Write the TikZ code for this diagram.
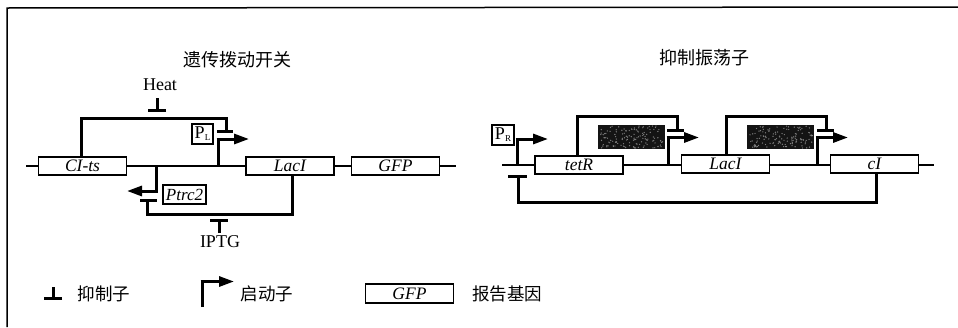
\documentclass[tikz,border=0pt]{standalone}
\usepackage{fontspec}
\setmainfont{Liberation Serif}
\newfontfamily\cjk{Noto Sans CJK SC}
\usetikzlibrary{arrows.meta}
\tikzset{
  gene/.style={draw=black,fill=white,line width=1.5pt,minimum width=88pt,minimum height=18pt,inner sep=0pt,font=\fontsize{17.5}{17.5}\selectfont\itshape},
  dna/.style={line width=1.2pt},
  wire/.style={line width=3pt,line join=miter},
  prom/.style={line width=3pt,-{Triangle[length=15pt,width=10pt]}},
  rep/.style={line width=3pt,-{Bar[width=18pt,length=3pt]}},
  tag/.style={draw=black,line width=1.5pt,fill=white,inner sep=0pt,font=\fontsize{18}{18}\selectfont},
  title/.style={font=\cjk\fontsize{18}{18}\selectfont,inner sep=0pt},
  legend/.style={font=\cjk\fontsize{17.5}{17.5}\selectfont,inner sep=0pt},
  plain/.style={font=\fontsize{18}{18}\selectfont,inner sep=0pt},
  blackbox/.style={fill=black!92,inner sep=0pt,minimum width=67pt,minimum height=24pt}
}
\begin{document}
\begin{tikzpicture}[x=1pt,y=-1pt]
\useasboundingbox (0,0) rectangle (958,327);
% frame
\coordinate (fb) at (7,327);
\coordinate (fc) at (7,8);
\coordinate (fr) at (958,7);
\draw[line width=1.5pt] (fb) -- (fc) -- (fr);
% titles
\node[title] (t1) at (237,60) {遗传拨动开关};
\node[title] (t2) at (704,58) {抑制振荡子};
% ---------- left circuit
\coordinate (la) at (26,166);
\coordinate (lb) at (456,166);
\draw[dna] (la) -- (lb);
\node[gene] (clts) at (82.5,166) {CI-ts};
\node[gene] (laca) at (290,166) {LacI};
\node[gene] (gfpa) at (395.5,166) {GFP};
\node[plain] (heat) at (160,85) {Heat};
\node[plain] (iptg) at (220,242) {IPTG};
\node[tag,minimum width=21pt,minimum height=20pt] (pl) at (202.5,134) {P\raisebox{-2pt}{\fontsize{9}{9}\selectfont L}};
\node[tag,minimum width=43pt,minimum height=19pt,font=\fontsize{17}{17}\selectfont\itshape] (ptrc) at (184.5,194.5) {Ptrc2};
% feedback CI -> PL
\coordinate (f1a) at (81,118);
\coordinate (f1b) at (226,118);
\coordinate (f1c) at (226,132);
\draw[wire] (clts.north -| f1a) -- (f1a) -- (f1b) -- (f1c);
\coordinate (f1bl) at (217,131);
\coordinate (f1br) at (233,131);
\draw[wire] (f1bl) -- (f1br);
% PL promoter
\coordinate (p1a) at (218,166);
\coordinate (p1b) at (218,139);
\coordinate (p1c) at (249,139);
\coordinate (p1d) at (216.5,139);
\draw[wire] (p1a) -- (p1b);
\draw[prom] (p1d) -- (p1c);
% Heat
\coordinate (h1) at (157,98);
\coordinate (h2) at (157,112);
\draw[rep] (h1) -- (h2);
% Ptrc2 promoter
\coordinate (p2a) at (156,166);
\coordinate (p2b) at (156,191);
\coordinate (p2c) at (127,191);
\coordinate (p2d) at (157.5,191);
\draw[wire] (p2a) -- (p2b);
\draw[prom] (p2d) -- (p2c);
% LacI -> Ptrc2
\coordinate (r1a) at (292,214);
\coordinate (r1b) at (147,214);
\coordinate (r1c) at (147,201);
\draw[wire] (laca.south -| r1a) -- (r1a) -- (r1b) -- (r1c);
\coordinate (r1l) at (140,200.5);
\coordinate (r1r) at (157,200.5);
\draw[wire] (r1l) -- (r1r);
% IPTG
\coordinate (i1) at (219,233);
\coordinate (i2) at (219,219);
\draw[rep] (i1) -- (i2);
% ---------- right circuit
\coordinate (ra) at (502,165);
\coordinate (rb) at (934,165);
\draw[dna] (ra) -- (rb);
\node[gene] (tet) at (579,165) {tetR};
\node[gene] (lacb) at (725.5,164) {LacI};
\node[gene] (ci) at (874.5,164) {cI};
\node[tag,minimum width=22pt,minimum height=20pt] (pr) at (503,135) {P\raisebox{-2pt}{\fontsize{9}{9}\selectfont R}};
\node[blackbox] (k1) at (631.5,137) {};
\node[blackbox] (k2) at (780.5,137) {};
\pgfmathsetseed{7}
\foreach \cx in {631.5,780.5}{
  \foreach \i in {1,...,130}{
    \pgfmathsetmacro{\dx}{\cx+rand*32}
    \pgfmathsetmacro{\dy}{137+rand*11}
    \fill[black!50] (\dx,\dy) circle (0.7pt);
  }
}
% PR promoter
\coordinate (p3a) at (517,165);
\coordinate (p3b) at (517,139);
\coordinate (p3c) at (548,139);
\coordinate (p3d) at (515.5,139);
\draw[wire] (p3a) -- (p3b);
\draw[prom] (p3d) -- (p3c);
% cI -> PR
\coordinate (r2a) at (876,202);
\coordinate (r2b) at (518,202);
\coordinate (r2c) at (518,177);
\draw[wire] (ci.south -| r2a) -- (r2a) -- (r2b) -- (r2c);
\coordinate (r2l) at (508,176);
\coordinate (r2r) at (527,176);
\draw[wire] (r2l) -- (r2r);
% tetR -> P
\coordinate (f2a) at (577,116);
\coordinate (f2b) at (677,116);
\coordinate (f2c) at (677,130);
\draw[wire] (tet.north -| f2a) -- (f2a) -- (f2b) -- (f2c);
\coordinate (f2l) at (667,130);
\coordinate (f2r) at (684,130);
\draw[wire] (f2l) -- (f2r);
\coordinate (p4a) at (668,165);
\coordinate (p4b) at (668,137.5);
\coordinate (p4c) at (699,137.5);
\coordinate (p4d) at (666.5,137.5);
\draw[wire] (p4a) -- (p4b);
\draw[prom] (p4d) -- (p4c);
% LacI -> P
\coordinate (f3a) at (726,116);
\coordinate (f3b) at (826,116);
\coordinate (f3c) at (826,130);
\draw[wire] (lacb.north -| f3a) -- (f3a) -- (f3b) -- (f3c);
\coordinate (f3l) at (817,130);
\coordinate (f3r) at (834,130);
\draw[wire] (f3l) -- (f3r);
\coordinate (p5a) at (817,165);
\coordinate (p5b) at (817,137.5);
\coordinate (p5c) at (848,137.5);
\coordinate (p5d) at (815.5,137.5);
\draw[wire] (p5a) -- (p5b);
\draw[prom] (p5d) -- (p5c);
% ---------- legend
\coordinate (l1a) at (53,287);
\coordinate (l1b) at (53,300);
\draw[rep] (l1a) -- (l1b);
\node[legend] (lg1) at (104,294) {抑制子};
\coordinate (l2a) at (202,307);
\coordinate (l2b) at (202,281.5);
\coordinate (l2c) at (234,281.5);
\coordinate (l2d) at (200.5,281.5);
\draw[wire] (l2a) -- (l2b);
\draw[prom] (l2d) -- (l2c);
\node[legend] (lg2) at (267,294) {启动子};
\node[gene,minimum height=19pt] (gfpl) at (409.5,293.5) {GFP};
\node[legend] (lg3) at (507,294) {报告基因};
\end{tikzpicture}
\end{document}
